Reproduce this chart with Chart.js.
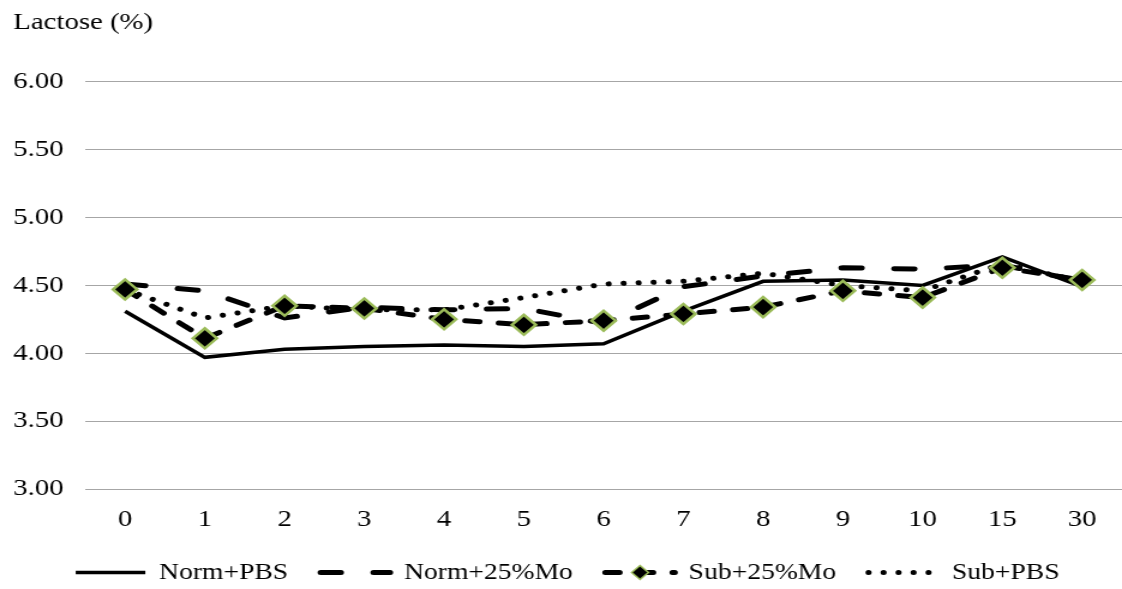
<!DOCTYPE html>
<html>
<head>
  <title>Lactose (%)</title>
  <script src="https://cdn.jsdelivr.net/npm/chart.js"></script>
  <style>
    body { margin: 0; background: #fff; }
  </style>
</head>
<body>
  <!-- drawn 935px wide and shown at 1122px, the original figure is stretched sideways -->
  <canvas id="lactoseChart" width="935" height="589" style="width:1122px;height:589px;display:block"></canvas>

  <script>
    // days after treatment
    const days = ['0', '1', '2', '3', '4', '5', '6', '7', '8', '9', '10', '15', '30'];

    // lactose (%)
    const normPbs = [4.31, 3.97, 4.03, 4.05, 4.06, 4.05, 4.07, 4.31, 4.53, 4.54, 4.50, 4.71, 4.49];
    const normMo  = [4.51, 4.46, 4.26, 4.34, 4.32, 4.33, 4.22, 4.49, 4.57, 4.63, 4.62, 4.65, 4.53];
    const subMo   = [4.47, 4.11, 4.35, 4.33, 4.25, 4.21, 4.24, 4.29, 4.34, 4.46, 4.41, 4.63, 4.54];
    const subPbs  = [4.47, 4.26, 4.35, 4.32, 4.32, 4.41, 4.51, 4.53, 4.59, 4.50, 4.46, 4.66, 4.53];

    const yTicks = [3.00, 3.50, 4.00, 4.50, 5.00, 5.50, 6.00];

    const green = '#9bbb59';

    Chart.defaults.font.family = "'Liberation Serif', 'Times New Roman', serif";
    Chart.defaults.font.size = 24;
    Chart.defaults.color = '#000';

    // the Sub+25%Mo legend sample has a diamond in the middle of its dashes
    const legendDiamond = {
      id: 'legendDiamond',
      afterDraw(chart) {
        const legend = chart.legend;
        const i = legend.legendItems.findIndex(it => it.text === 'Sub+25%Mo');
        const box = legend.legendHitBoxes[i];
        if (!box) return;
        const labels = chart.options.plugins.legend.labels;
        const x = box.left + labels.pointStyleWidth / 2;
        const y = box.top + labels.font.size / 2;
        const r = 7;
        const ctx = chart.ctx;
        ctx.save();
        ctx.setLineDash([]);
        ctx.beginPath();
        ctx.moveTo(x, y - r);
        ctx.lineTo(x + r, y);
        ctx.lineTo(x, y + r);
        ctx.lineTo(x - r, y);
        ctx.closePath();
        ctx.fillStyle = '#000';
        ctx.fill();
        ctx.lineWidth = 1.5;
        ctx.strokeStyle = green;
        ctx.stroke();
        ctx.restore();
      }
    };

    const ctx = document.getElementById('lactoseChart').getContext('2d');

    const chart = new Chart(ctx, {
      type: 'line',
      data: {
        labels: days,
        datasets: [
          {
            label: 'Norm+PBS',
            data: normPbs,
            borderColor: '#000',
            borderWidth: 3.5,
            pointRadius: 0,
            order: 1
          },
          {
            label: 'Norm+25%Mo',
            data: normMo,
            borderColor: '#000',
            borderWidth: 5,
            borderDash: [17, 27],
            borderCapStyle: 'round',
            pointRadius: 0,
            order: 1
          },
          {
            label: 'Sub+25%Mo',
            data: subMo,
            borderColor: '#000',
            borderWidth: 5,
            borderDash: [12, 16],
            borderCapStyle: 'round',
            pointStyle: 'rectRot',
            pointRadius: 10,
            pointBackgroundColor: '#000',
            pointBorderColor: green,
            pointBorderWidth: 2.5,
            order: 0
          },
          {
            label: 'Sub+PBS',
            data: subPbs,
            borderColor: '#000',
            borderWidth: 5,
            borderDash: [0.1, 12.4],
            borderCapStyle: 'round',
            pointRadius: 0,
            order: 1
          }
        ]
      },
      options: {
        responsive: false,
        devicePixelRatio: 1,
        animation: false,
        layout: {
          autoPadding: false, // gridlines run to the right edge, as in the original
          padding: { left: 11, right: 0, top: 8, bottom: -5 }
        },
        plugins: {
          tooltip: { enabled: false },
          title: {
            display: true,
            text: 'Lactose (%)',
            align: 'start',
            font: { weight: 'normal', size: 24 },
            color: '#000',
            padding: { top: 0, bottom: 45 }
          },
          legend: {
            position: 'bottom',
            labels: {
              usePointStyle: true,
              pointStyleWidth: 58,
              padding: 27,
              font: { size: 23 },
              sort: (a, b) => a.datasetIndex - b.datasetIndex,
              generateLabels: c => c.data.datasets.map((ds, i) => ({
                text: ds.label,
                datasetIndex: i,
                pointStyle: 'line',
                strokeStyle: '#000',
                fillStyle: '#000',
                fontColor: '#000',
                lineWidth: ds.borderWidth,
                lineDash: ds.borderDash || [],
                lineCap: ds.borderDash ? 'round' : 'butt',
                hidden: false
              }))
            }
          }
        },
        scales: {
          x: {
            offset: true,
            grid: { display: false },
            border: { display: false },
            ticks: { padding: 8, maxRotation: 0 },
            afterFit: s => { s.height = 45; }
          },
          y: {
            min: 3,
            max: 6,
            afterBuildTicks: scale => { scale.ticks = yTicks.map(v => ({ value: v })); },
            afterFit: s => { s.width = 60; },
            grid: { color: '#a6a6a6', lineWidth: 1, drawTicks: false },
            border: { display: false },
            ticks: { padding: 18, callback: v => v.toFixed(2) }
          }
        }
      },
      plugins: [legendDiamond]
    });
  </script>
</body>
</html>
